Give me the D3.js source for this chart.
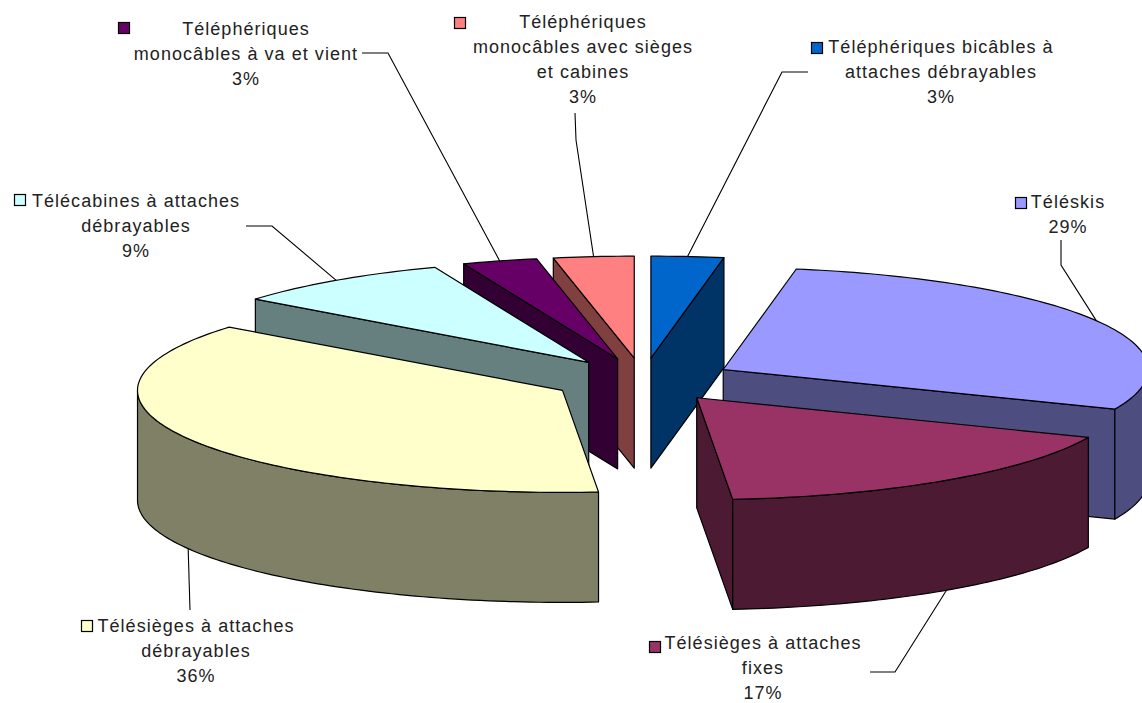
<!DOCTYPE html>
<html>
<head>
<meta charset="utf-8">
<script src="https://d3js.org/d3.v7.min.js"></script>
<style>
  body { margin: 0; background: #fff; overflow: hidden; }
  text { font-family: "Liberation Sans", Arial, sans-serif; font-size: 18px; letter-spacing: 1.05px; fill: #222; }
</style>
</head>
<body>
<script>
// slices, clockwise from 12 o'clock
var categories = [
  ["Téléphériques bicâbles à", "attaches débrayables"],
  ["Téléskis"],
  ["Télésièges à attaches", "fixes"],
  ["Télésièges à attaches", "débrayables"],
  ["Télécabines à attaches", "débrayables"],
  ["Téléphériques", "monocâbles à va et vient"],
  ["Téléphériques", "monocâbles avec sièges", "et cabines"]
];
// shares as read from the slice edges, percents as printed on the chart
var shares = [2.75, 28.6, 17.3, 37, 8.45, 2.85, 3.05];
var percents = ["3%", "29%", "17%", "36%", "9%", "3%", "3%"];
var colors = ["#0066CC", "#9999FF", "#993366", "#FFFFCC", "#CCFFFF", "#660066", "#FF8080"];

// where the labels sit, same order as categories
var labelX = [941, 1068, 763, 196, 136, 246, 583];
var labelY = [53, 208, 649, 632, 207, 35, 28];
var keyX = [811, 1015, 649, 81, 14, 118, 454];
var keyY = [42, 197, 641, 620, 194, 22, 17];
var leaders = [
  [[808, 72], [782, 72]],
  [[1061, 240], [1061, 265]],
  [[870, 672], [895, 672]],
  [[190, 610]],
  [[246, 226], [272, 226]],
  [[362, 53], [388, 53]],
  [[575, 113], [576, 140]]
];

var width = 1142, height = 703;
var cx = 643, cy = 380, rx = 425, ry = 102;
var depth = 110, explode = 0.215, lineStep = 25;

var svg = d3.select("body").append("svg")
    .attr("width", width)
    .attr("height", height);

var xscale = d3.scaleLinear().domain([-1, 1]).range([cx - rx, cx + rx]);
var yscale = d3.scaleLinear().domain([-1, 1]).range([cy - ry, cy + ry]);

var pie = d3.pie().sort(null).value(function(d) { return d; });
var slices = pie(shares).map(function(d, i) {
  d.i = i;
  d.mid = (d.startAngle + d.endAngle) / 2;
  d.ox = Math.sin(d.mid) * explode;
  d.oy = -Math.cos(d.mid) * explode;
  return d;
});

// point on the slice: r=0 is the apex, r=1 the rim
function pt(d, angle, r, z) {
  return [xscale(d.ox + Math.sin(angle) * r), yscale(d.oy - Math.cos(angle) * r) + z];
}

function arcPoints(d, a0, a1, z) {
  var n = Math.max(2, Math.ceil((a1 - a0) / 0.02));
  return d3.range(n + 1).map(function(k) {
    return pt(d, a0 + (a1 - a0) * k / n, 1, z);
  });
}

function dark(c) {
  var col = d3.rgb(c);
  return d3.rgb(col.r / 2, col.g / 2, col.b / 2).formatHex();
}

var line = d3.line();

function poly(d, pts, fill) {
  svg.append("path")
     .attr("d", line(pts) + "Z")
     .attr("fill", fill)
     .attr("stroke", "#000")
     .attr("stroke-width", 1.2)
     .attr("stroke-linejoin", "round");
}

function wall(d, angle) {
  poly(d, [pt(d, angle, 0, 0), pt(d, angle, 1, 0), pt(d, angle, 1, depth), pt(d, angle, 0, depth)], dark(colors[d.i]));
}

// back slices first
var order = slices.slice().sort(function(a, b) { return Math.cos(b.mid) - Math.cos(a.mid); });

order.forEach(function(d) {
  var c = colors[d.i];
  if (Math.sin(d.startAngle) < 0) wall(d, d.startAngle);
  if (Math.sin(d.endAngle) > 0) wall(d, d.endAngle);

  // the front part of the rim
  var a0 = Math.max(d.startAngle, Math.PI / 2);
  var a1 = Math.min(d.endAngle, Math.PI * 1.5);
  if (a1 > a0) {
    poly(d, arcPoints(d, a0, a1, 0).concat(arcPoints(d, a0, a1, depth).reverse()), dark(c));
  }

  poly(d, [pt(d, d.startAngle, 0, 0)].concat(arcPoints(d, d.startAngle, d.endAngle, 0)), c);
});

// leader lines end on the rim, on the bottom edge for the front slices
slices.forEach(function(d) {
  var z = Math.cos(d.mid) < 0 ? depth : 0;
  svg.append("path")
     .attr("d", line(leaders[d.i].concat([pt(d, d.mid, 1, z)])))
     .attr("fill", "none")
     .attr("stroke", "#000")
     .attr("stroke-width", 1.1);
});

// labels
slices.forEach(function(d) {
  var i = d.i;
  var rows = categories[i].concat([percents[i]]);
  svg.append("rect")
     .attr("x", keyX[i] + 0.5)
     .attr("y", keyY[i] + 0.5)
     .attr("width", 11)
     .attr("height", 11)
     .attr("fill", colors[i])
     .attr("stroke", "#000")
     .attr("stroke-width", 1.2);

  rows.forEach(function(t, k) {
    svg.append("text")
       .attr("x", labelX[i])
       .attr("y", labelY[i] + k * lineStep)
       .attr("text-anchor", "middle")
       .text(t);
  });
});
</script>
</body>
</html>
